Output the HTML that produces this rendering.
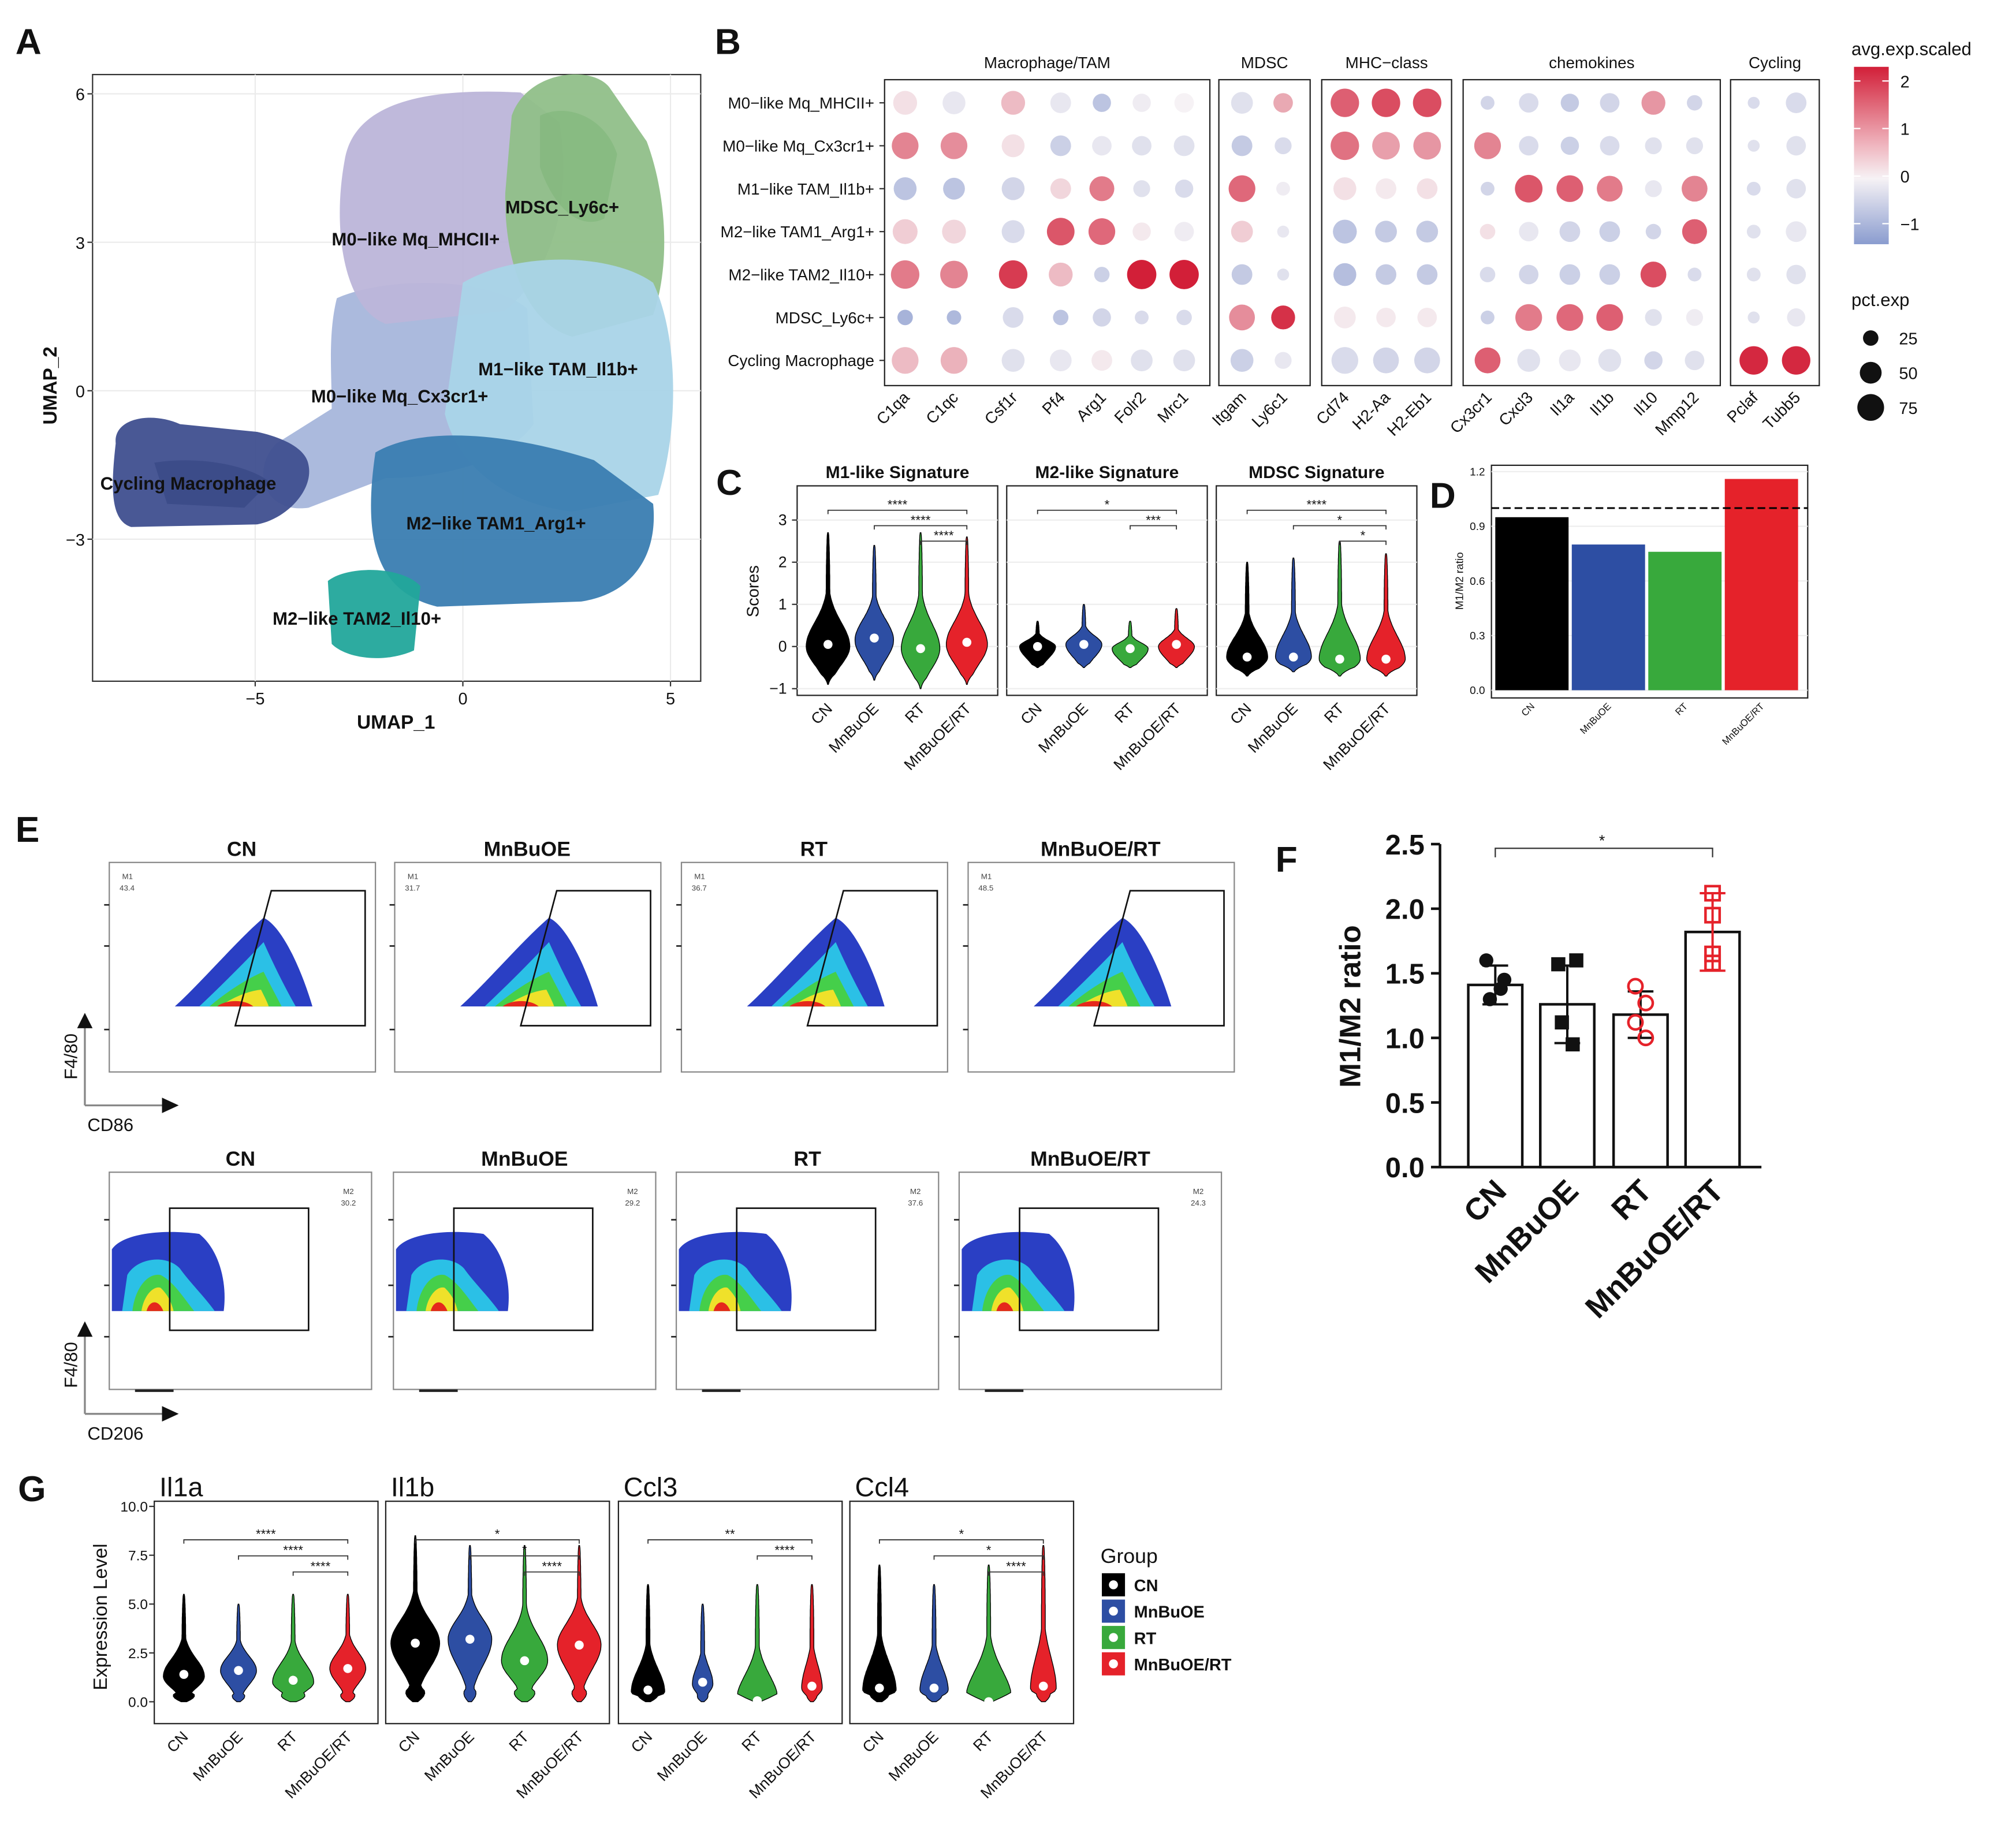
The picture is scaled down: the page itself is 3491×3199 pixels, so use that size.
<!DOCTYPE html>
<html><head><meta charset="utf-8">
<style>
html,body{margin:0;padding:0;background:#fff;}
svg{display:block;font-family:"Liberation Sans",Arial,sans-serif;}
</style></head>
<body>
<svg id="fig" xmlns="http://www.w3.org/2000/svg" width="3491" height="3199" viewBox="0 0 1568 1437" preserveAspectRatio="none">
<rect x="0" y="0" width="1568" height="1437" fill="#fff"/>
</svg>
<script>
// ---------- DATA ----------
const groups = ["CN","MnBuOE","RT","MnBuOE/RT"];
const groupColors = ["#000000","#2d4ea3","#38a93c","#e5222a"];
// Panel B
const dotRows = ["M0\u2212like Mq_MHCII+","M0\u2212like Mq_Cx3cr1+","M1\u2212like TAM_Il1b+","M2\u2212like TAM1_Arg1+","M2\u2212like TAM2_Il10+","MDSC_Ly6c+","Cycling Macrophage"];
const dotGenes = ["C1qa","C1qc","Csf1r","Pf4","Arg1","Folr2","Mrc1","Itgam","Ly6c1","Cd74","H2-Aa","H2-Eb1","Cx3cr1","Cxcl3","Il1a","Il1b","Il10","Mmp12","Pclaf","Tubb5"];
const dotGroupNames = ["Macrophage/TAM","MDSC","MHC\u2212class","chemokines","Cycling"];
const dotGroupSizes = [7,2,3,6,2];
const dotExp = [
 [0.2,1.2,-0.8,0.4,1.3,-1.1,0.6],[-0.2,1.1,-0.8,0.3,1.2,-1.0,0.7],[0.6,0.2,-0.5,-0.4,2.0,-0.4,-0.3],
 [-0.2,-0.6,0.3,1.7,0.6,-0.8,-0.2],[-0.8,-0.2,1.3,1.5,-0.6,-0.5,0.1],[-0.1,-0.3,-0.3,0.1,2.3,-0.4,-0.3],
 [0.0,-0.3,-0.4,-0.1,2.3,-0.4,-0.3],[-0.3,-0.7,1.5,0.4,-0.7,1.1,-0.6],[0.8,-0.4,-0.1,-0.2,-0.3,2.1,-0.2],
 [1.6,1.4,0.2,-0.8,-0.9,0.1,-0.4],[1.8,0.9,0.1,-0.7,-0.7,0.1,-0.5],[1.8,1.0,0.2,-0.7,-0.7,0.1,-0.5],
 [-0.5,1.2,-0.5,0.2,-0.4,-0.6,1.6],[-0.4,-0.4,1.7,-0.2,-0.5,1.3,-0.3],[-0.7,-0.6,1.6,-0.5,-0.6,1.5,-0.2],
 [-0.5,-0.4,1.3,-0.6,-0.6,1.6,-0.3],[1.0,-0.3,-0.2,-0.5,1.8,-0.3,-0.5],[-0.5,-0.3,1.2,1.6,-0.4,-0.1,-0.3],
 [-0.4,-0.3,-0.4,-0.3,-0.3,-0.3,2.2],[-0.4,-0.3,-0.3,-0.2,-0.3,-0.2,2.2]];
const dotPct = [
 [60,75,55,65,85,25,75],[55,75,50,60,80,22,75],[60,55,55,55,85,45,55],
 [45,45,45,80,60,25,50],[35,40,65,75,25,35,45],[35,40,30,35,90,20,50],
 [40,45,35,40,90,25,50],[50,45,75,50,45,70,55],[40,30,20,15,15,60,30],
 [85,85,55,60,55,50,75],[85,80,45,50,45,40,70],[85,80,45,50,45,40,70],
 [20,75,20,25,25,20,70],[40,40,80,40,40,75,55],[35,35,75,45,45,75,50],
 [40,40,70,45,45,75,55],[60,30,30,25,70,30,35],[25,30,70,65,20,30,40],
 [15,15,20,20,20,15,85],[45,40,40,45,40,35,85]];
const colorTicks = [2,1,0,-1];
const pctTicks = [25,50,75];
// Panel C
const cTitles = ["M1-like Signature","M2-like Signature","MDSC Signature"];
const cMin = [[-0.9,-0.8,-1.0,-0.9],[-0.5,-0.5,-0.5,-0.5],[-0.7,-0.6,-0.7,-0.7]];
const cMax = [[2.7,2.4,2.7,2.6],[0.6,1.0,0.6,0.9],[2.0,2.1,2.5,2.2]];
const cMode = [[0.0,0.15,-0.05,0.05],[0.0,0.05,-0.05,0.0],[-0.25,-0.25,-0.3,-0.3]];
const cMed = [[0.05,0.2,-0.05,0.1],[0.0,0.05,-0.05,0.05],[-0.25,-0.25,-0.3,-0.3]];
const cHalfW = [[17,15,15,16],[14,14,14,14],[16,14,16,15]];
const cSig = [[["****",0,3],["****",1,3],["****",2,3]],[["*",0,3],["***",2,3]],[["****",0,3],["*",1,3],["*",2,3]]];
const cTicks = [3,2,1,0,-1];
// Panel D
const dVals = [0.95,0.80,0.76,1.16];
const dTicks = [0.0,0.3,0.6,0.9,1.2];
// Panel E
const eTop = ["43.4","31.7","36.7","48.5"];
const eBot = ["30.2","29.2","37.6","24.3"];
// Panel F
const fMeans = [1.41,1.26,1.18,1.82];
const fSd = [0.15,0.30,0.18,0.30];
const fPts = [[1.60,1.45,1.30,1.38],[1.57,1.60,1.12,0.95],[1.40,1.27,1.12,1.00],[2.12,1.95,1.65,1.58]];
const fTicks = [0,0.5,1.0,1.5,2.0,2.5];
// Panel G
const gTitles = ["Il1a","Il1b","Ccl3","Ccl4"];
const gMax = [[5.5,5.0,5.5,5.5],[8.5,8.0,8.0,8.0],[6.0,5.0,6.0,6.0],[7.0,6.0,7.0,8.0]];
const gMode = [[1.3,1.6,1.0,1.7],[3.0,3.2,2.1,2.9],[0.5,0.9,0.1,0.7],[0.6,0.6,0.1,0.7]];
const gMed = [[1.4,1.6,1.1,1.7],[3.0,3.2,2.1,2.9],[0.6,1.0,0.05,0.8],[0.7,0.7,0.0,0.8]];
const gHalfW = [[16,14,16,14],[19,17,18,17],[13,8,16,8],[13,11,18,10]];
const gBase = [[0.9,0.6,1.0,0.7],[0.7,0.5,0.8,0.6],[1.0,0.9,1.0,0.9],[1.0,1.0,1.0,1.0]];
const gSig = [[["****",0,3],["****",1,3],["****",2,3]],[["*",0,3],["*",1,3],["****",2,3]],[["**",0,3],["****",2,3]],[["*",0,3],["*",1,3],["****",2,3]]];
const gTicks = [0,2.5,5,7.5,10];

// ---------- HELPERS ----------
const NS="http://www.w3.org/2000/svg";
const svg=document.getElementById('fig');
function E(tag,attrs,parent){const el=document.createElementNS(NS,tag);for(const k in attrs)el.setAttribute(k,attrs[k]);(parent||svg).appendChild(el);return el;}
function T(x,y,txt,size,attrs,parent){const a=Object.assign({x:x,y:y,'font-size':size,fill:'#111'},attrs||{});const el=E('text',a,parent);el.textContent=txt;return el;}
function G(){return E('g',{});}
function lerp(a,b,t){return a+(b-a)*t;}
function hex(c){return [parseInt(c.slice(1,3),16),parseInt(c.slice(3,5),16),parseInt(c.slice(5,7),16)];}
function expColor(v){const lo=hex('#8a9ccf'),mid=hex('#f6f2f5'),hi=hex('#d21f38');let a,b,t;
 if(v<0){a=mid;b=lo;t=Math.min(1,-v/1.5);}else{a=mid;b=hi;t=Math.min(1,v/2.3);}
 return 'rgb('+[0,1,2].map(i=>Math.round(lerp(a[i],b[i],t))).join(',')+')';}
function violin(cx,ys,mn,mx,mode,hw,base){
 const n=60;const L=[],R=[];
 const sLo=Math.max(0.15,(mode-mn)*0.55+0.12),sHi=Math.max(0.2,(mx-mode)*0.3);
 for(let i=0;i<=n;i++){const v=mn+(mx-mn)*i/n;const s=v<mode?sLo:sHi;
  let w=Math.exp(-Math.pow((v-mode)/s,2));
  if(base>0)w=Math.max(w,base*Math.exp(-Math.pow((v-mn)/((mx-mn)*0.08+0.05),2)));
  w=hw*w;const end=Math.sin(Math.PI*i/n);w=Math.max(w*Math.min(1,end*4+0.15),1.2*Math.sqrt(end)+0.3);
  L.push([cx-w,ys(v)]);R.push([cx+w,ys(v)]);}
 let d='M'+L.map(p=>p[0].toFixed(1)+' '+p[1].toFixed(1)).join(' L');
 d+=' L'+R.reverse().map(p=>p[0].toFixed(1)+' '+p[1].toFixed(1)).join(' L')+' Z';return d;}

// ---------- PANEL A ----------
const gA=G();
let el=T(12,42,'A',28,{'font-weight':'bold'},gA);
const ax0=72,ax1=545,ay0=58,ay1=530;
el=E('rect',{x:ax0,y:ay0,width:ax1-ax0,height:ay1-ay0,fill:'#fff',stroke:'#333','stroke-width':1},gA);
const ux=v=>360+v*32.3, uy=v=>304-v*38.5;
[-5,0,5].forEach(v=>{E('line',{x1:ux(v),x2:ux(v),y1:ay0,y2:ay1,stroke:'#ebebeb'},gA);
 el=T(ux(v),548,v===0?'0':(v<0?'\u2212'+(-v):''+v),13,{'text-anchor':'middle'},gA);
 E('line',{x1:ux(v),x2:ux(v),y1:ay1,y2:ay1+4,stroke:'#333'},gA);});
[6,3,0,-3].forEach(v=>{E('line',{x1:ax0,x2:ax1,y1:uy(v),y2:uy(v),stroke:'#ebebeb'},gA);
 el=T(66,uy(v)+5,v<0?'\u2212'+(-v):''+v,13,{'text-anchor':'end'},gA);
 E('line',{x1:ax0-4,x2:ax0,y1:uy(v),y2:uy(v),stroke:'#333'},gA);});
el=T(308,567,'UMAP_1',15,{'text-anchor':'middle','font-weight':'bold'},gA);
el=T(0,0,'UMAP_2',15,{'text-anchor':'middle','font-weight':'bold',transform:'translate(44,300) rotate(-90)'},gA);
const blobs=[
 ['cluster-m0-cx3cr1','#a7b6db','M 262 232 C 300 215 380 215 410 240 L 415 330 C 390 365 330 372 300 372 L 240 395 C 205 400 195 365 215 345 L 258 318 C 258 290 255 260 262 232 Z'],
 ['cluster-m0-mhcii','#bcb5d9','M 268 125 C 275 80 330 68 405 72 L 435 95 C 445 150 432 212 392 242 L 300 252 C 268 240 258 180 268 125 Z'],
 ['cluster-mdsc','#90bf89','M 398 90 C 410 55 460 50 474 68 L 503 110 C 518 150 522 205 508 245 L 445 262 C 410 252 392 205 393 150 Z'],
 ['cluster-m1-il1b','#a9d4e8','M 360 220 C 400 196 475 196 508 220 C 528 262 528 335 512 385 L 445 398 C 392 392 356 362 346 322 Z'],
 ['cluster-m2-arg1','#3a7db1','M 292 352 C 330 330 400 338 462 358 L 508 392 C 512 432 492 462 452 468 L 340 472 C 300 462 280 432 292 352 Z'],
 ['cluster-m2-il10','#22a69b','M 255 452 C 270 440 312 440 327 456 L 322 506 C 300 516 270 513 258 501 Z'],
 ['cluster-cycling','#3f4f8f','M 90 345 C 88 325 118 320 140 330 L 200 336 C 218 340 238 348 240 362 C 244 382 222 404 200 408 L 102 410 C 86 405 86 380 90 345 Z']];
blobs.forEach(b=>{el=E('path',{d:b[2],fill:b[1],opacity:0.95},gA);});
E('path',{d:'M 420 90 C 440 80 470 90 480 120 L 470 170 C 450 180 430 160 420 130 Z',fill:'#7fb57a',opacity:0.6},gA);
E('path',{d:'M 120 360 C 150 355 190 360 210 375 L 190 395 L 130 392 Z',fill:'#344582',opacity:0.6},gA);
const uLabels=[["MDSC_Ly6c+",393,166],["M0\u2212like Mq_MHCII+",258,191],["M1\u2212like TAM_Il1b+",372,292],["M0\u2212like Mq_Cx3cr1+",242,313],["Cycling Macrophage",78,381],["M2\u2212like TAM1_Arg1+",316,412],["M2\u2212like TAM2_Il10+",212,486]];
uLabels.forEach(l=>{el=T(l[1],l[2],l[0],14,{'font-weight':'bold',fill:'#111'},gA);});

// ---------- PANEL B ----------
const gB=G();
el=T(556,42,'B',28,{'font-weight':'bold'},gB);
const geneX=[704,742,788,825,857,888,921,966,998,1046,1078,1110,1157,1189,1221,1252,1286,1318,1364,1397];
const rowY=r=>80+r*33.4;
const boxes=[[688,941],[948,1019],[1028,1129],[1138,1338],[1346,1415]];
boxes.forEach((bx,i)=>{el=E('rect',{x:bx[0],y:62,width:bx[1]-bx[0],height:238,fill:'#fff',stroke:'#222','stroke-width':1},gB);
 el=T((bx[0]+bx[1])/2,53,dotGroupNames[i],12.5,{'text-anchor':'middle'},gB);});
dotRows.forEach((r,i)=>{el=T(680,rowY(i)+4.5,r,12.5,{'text-anchor':'end'},gB);
 E('line',{x1:684,x2:688,y1:rowY(i),y2:rowY(i),stroke:'#333'},gB);});
dotGenes.forEach((g,j)=>{const x=geneX[j];
 el=T(0,0,g,12.5,{'text-anchor':'end',transform:'translate('+(x+4)+',310) rotate(-45)'},gB);
 dotRows.forEach((r,i)=>{const c=E('circle',{cx:x,cy:rowY(i),r:Math.sqrt(dotPct[j][i])*1.2,fill:expColor(dotExp[j][i])},gB);
  
  });});
el=T(1440,43,'avg.exp.scaled',14,{},gB);
const defs=E('defs',{});const lg=E('linearGradient',{id:'cg',x1:0,y1:0,x2:0,y2:1},defs);
[['0%','#d21f38'],['45%','#f0b8c1'],['63%','#f6f2f5'],['100%','#8a9ccf']].forEach(s=>E('stop',{offset:s[0],'stop-color':s[1]},lg));
el=E('rect',{x:1442,y:52,width:27,height:138,fill:'url(#cg)'},gB);
const cy=v=>137-v*37;
colorTicks.forEach(v=>{el=T(1478,cy(v)+5,v<0?'\u2212'+(-v):''+v,13,{},gB);
 E('line',{x1:1442,x2:1447,y1:cy(v),y2:cy(v),stroke:'#fff'},gB);E('line',{x1:1464,x2:1469,y1:cy(v),y2:cy(v),stroke:'#fff'},gB);});
el=T(1440,238,'pct.exp',14,{},gB);
pctTicks.forEach((p,i)=>{const y=263+i*27;el=E('circle',{cx:1455,cy:y,r:Math.sqrt(p)*1.2,fill:'#111'},gB);
 el=T(1477,y+5,''+p,13,{},gB);});

// ---------- PANEL C ----------
const gC=G();
el=T(557,385,'C',28,{'font-weight':'bold'},gC);
const cBoxes=[620,783,946];const cW=156,cTop=378,cBot=541;
const cys=v=>503-v*32.8;
el=T(0,0,'Scores',13,{'text-anchor':'middle',transform:'translate(590,460) rotate(-90)'},gC);
cTicks.forEach(v=>{el=T(612,cys(v)+4,v<0?'\u2212'+(-v):''+v,12,{'text-anchor':'end'},gC);
 E('line',{x1:616,x2:620,y1:cys(v),y2:cys(v),stroke:'#333'},gC);});
cBoxes.forEach((bx,p)=>{
 el=E('rect',{x:bx,y:cTop,width:cW,height:cBot-cTop,fill:'#fff',stroke:'#222'},gC);
 cTicks.forEach(v=>E('line',{x1:bx,x2:bx+cW,y1:cys(v),y2:cys(v),stroke:'#eeeeee'},gC));
 el=T(bx+cW/2,372,cTitles[p],13.5,{'text-anchor':'middle','font-weight':'bold'},gC);
 const xs=i=>bx+24+i*36;
 groups.forEach((g,i)=>{
  el=E('path',{d:violin(xs(i),cys,cMin[p][i],cMax[p][i],cMode[p][i],cHalfW[p][i],0),fill:groupColors[i],stroke:'#000','stroke-width':0.6},gC);
  
  
  el=E('circle',{cx:xs(i),cy:cys(cMed[p][i]),r:3.5,fill:'#fff'},gC);
  
  
  el=T(0,0,g,12,{'text-anchor':'end',transform:'translate('+(xs(i)+4)+',552) rotate(-45)'},gC);});
 cSig[p].forEach((s,k)=>{const y=397+k*12;const x1=xs(s[1]),x2=xs(s[2]);
  el=E('path',{d:'M'+x1+' '+(y+3)+' L'+x1+' '+y+' L'+x2+' '+y+' L'+x2+' '+(y+3),fill:'none',stroke:'#333','stroke-width':0.8},gC);
  el=T((x1+x2)/2,y-1,s[0],10,{'text-anchor':'middle'},gC);});
});

// ---------- PANEL D ----------
const gD=G();
el=T(1112,395,'D',28,{'font-weight':'bold'},gD);
const dys=v=>537-v*141.7;
el=E('rect',{x:1160,y:362,width:246,height:181,fill:'#fff',stroke:'#222'},gD);
dTicks.forEach(v=>{el=T(1155,dys(v)+3,v.toFixed(1),8.5,{'text-anchor':'end'},gD);
 E('line',{x1:1160,x2:1406,y1:dys(v),y2:dys(v),stroke:'#eee'},gD);});
dVals.forEach((v,i)=>{const x=1163+i*59.5;
 el=E('rect',{x:x,y:dys(v),width:57,height:dys(0)-dys(v),fill:groupColors[i]},gD);
 
 
 el=T(0,0,groups[i],7.5,{'text-anchor':'end',transform:'translate('+(x+31)+',550) rotate(-45)'},gD);});
el=E('line',{x1:1160,x2:1406,y1:dys(1),y2:dys(1),stroke:'#000','stroke-width':1.3,'stroke-dasharray':'6,3'},gD);
el=T(0,0,'M1/M2 ratio',8.5,{'text-anchor':'middle',transform:'translate(1138,452) rotate(-90)'},gD);

// ---------- PANEL E ----------
const gE=G();
el=T(12,655,'E',28,{'font-weight':'bold'},gE);
const topX=[85,307,530,753],botX=[85,306,526,746];
const flowCols=['#2a3fc4','#2bc0e6','#45cf4a','#efe12a','#e5281c'];
function topCloud(x,y){const s=[
 'M51 112 C70 95 100 60 120 43 C135 50 150 85 158 112 Z',
 'M70 112 C88 95 105 78 120 62 C128 80 137 98 145 112 Z',
 'M78 112 C92 100 108 90 120 85 C125 95 130 104 134 112 Z',
 'M86 112 C96 105 108 100 118 99 C121 105 123 109 124 112 Z',
 'M84 112 C90 107 105 106 112 112 Z'];
 s.forEach((d,i)=>{E('path',{d:d,fill:flowCols[i],transform:'translate('+x+','+y+')'},gE);});}
function botCloud(x,y){const s=[
 'M2 108 L2 60 C10 48 40 44 70 48 C85 60 92 85 89 108 Z',
 'M10 108 L14 80 C22 66 45 64 55 75 C62 85 75 98 82 108 Z',
 'M18 108 C20 90 30 78 40 80 C50 85 58 98 66 108 Z',
 'M25 108 C27 95 35 88 40 90 C45 95 48 100 50 108 Z',
 'M29 108 C31 100 38 98 42 108 Z'];
 s.forEach((d,i)=>{E('path',{d:d,fill:flowCols[i],transform:'translate('+x+','+y+')'},gE);});}
groups.forEach((g,i)=>{const x=topX[i],y=671;
 el=E('rect',{x:x,y:y,width:207,height:163,fill:'#fff',stroke:'#888'},gE);
 el=T(x+103,666,g,16,{'text-anchor':'middle','font-weight':'bold'},gE);
 topCloud(x,y);
 el=E('path',{d:'M'+(x+126)+' '+(y+22)+' L'+(x+199)+' '+(y+22)+' L'+(x+199)+' '+(y+127)+' L'+(x+98)+' '+(y+127)+' Z',fill:'none',stroke:'#111','stroke-width':1.2},gE);
 el=T(x+10,y+13,'M1',6,{fill:'#444'},gE);el=T(x+8,y+22,eTop[i],6,{fill:'#444'},gE);
 [y+33,y+65,y+130].forEach(t=>E('line',{x1:x-4,x2:x,y1:t,y2:t,stroke:'#222','stroke-width':1.2},gE));
});
groups.forEach((g,i)=>{const x=botX[i],y=912;
 el=E('rect',{x:x,y:y,width:204,height:169,fill:'#fff',stroke:'#888'},gE);
 el=T(x+102,907,g,16,{'text-anchor':'middle','font-weight':'bold'},gE);
 botCloud(x,y);
 el=E('rect',{x:x+47,y:y+28,width:108,height:95,fill:'none',stroke:'#111','stroke-width':1.2},gE);
 el=T(x+186,y+17,'M2',6,{fill:'#444','text-anchor':'middle'},gE);el=T(x+186,y+26,eBot[i],6,{fill:'#444','text-anchor':'middle'},gE);
 [y+37,y+88,y+128].forEach(t=>E('line',{x1:x-4,x2:x,y1:t,y2:t,stroke:'#222','stroke-width':1.2},gE));
 E('line',{x1:x+20,x2:x+50,y1:y+170,y2:y+170,stroke:'#222','stroke-width':2},gE);
});
function axisArrows(x0,y0,lblY,lblX){
 el=E('path',{d:'M'+x0+' '+y0+' L'+x0+' '+(y0-62)+' M'+x0+' '+y0+' L'+(x0+62)+' '+y0,stroke:'#888','stroke-width':1.5,fill:'none'},gE);
 E('path',{d:'M'+(x0-6)+' '+(y0-60)+' L'+x0+' '+(y0-72)+' L'+(x0+6)+' '+(y0-60)+' Z',fill:'#111'},gE);
 E('path',{d:'M'+(x0+60)+' '+(y0-6)+' L'+(x0+73)+' '+y0+' L'+(x0+60)+' '+(y0+6)+' Z',fill:'#111'},gE);
 el=T(0,0,lblY,14,{'text-anchor':'middle',transform:'translate('+(x0-6)+','+(y0-38)+') rotate(-90)'},gE);
 el=T(x0+2,y0+20,lblX,14,{},gE);}
axisArrows(66,860,'F4/80','CD86');axisArrows(66,1100,'F4/80','CD206');

// ---------- PANEL F ----------
const gF=G();
el=T(992,678,'F',28,{'font-weight':'bold'},gF);
const fys=v=>908-v*100.5;
E('line',{x1:1120,x2:1120,y1:fys(2.5),y2:fys(0),stroke:'#111','stroke-width':2},gF);
E('line',{x1:1120,x2:1370,y1:fys(0),y2:fys(0),stroke:'#111','stroke-width':2},gF);
fTicks.forEach(v=>{E('line',{x1:1113,x2:1120,y1:fys(v),y2:fys(v),stroke:'#111','stroke-width':2},gF);
 el=T(1108,fys(v)+8,v.toFixed(1),22,{'text-anchor':'end','font-weight':'bold'},gF);});
el=T(0,0,'M1/M2 ratio',23,{'text-anchor':'middle','font-weight':'bold',transform:'translate(1058,783) rotate(-90)'},gF);
const fX=[1163,1219,1276,1332];
fMeans.forEach((m,i)=>{const cx=fX[i];
 el=E('rect',{x:cx-21,y:fys(m),width:42,height:fys(0)-fys(m),fill:'#fff',stroke:'#111','stroke-width':2},gF);
 
 
 el=E('path',{d:'M'+cx+' '+fys(m-fSd[i])+' L'+cx+' '+fys(m+fSd[i])+' M'+(cx-10)+' '+fys(m+fSd[i])+' L'+(cx+10)+' '+fys(m+fSd[i])+' M'+(cx-10)+' '+fys(m-fSd[i])+' L'+(cx+10)+' '+fys(m-fSd[i]),stroke:groupColors[i]==='#000000'?'#111':(i===3?'#e5222a':'#111'),'stroke-width':1.8,fill:'none'},gF);
 
 
 fPts[i].forEach((v,k)=>{const px=cx+(k%2?7:-7)*(k<2?1:0.6);let m2;
  if(i===0){m2=E('circle',{cx:px,cy:fys(v),r:5.5,fill:'#111'},gF);}
  else if(i===1){m2=E('rect',{x:px-5.5,y:fys(v)-5.5,width:11,height:11,fill:'#111'},gF);}
  else if(i===2){m2=E('circle',{cx:cx+(k%2?4:-4),cy:fys(v),r:5.5,fill:'none',stroke:'#e5222a','stroke-width':2},gF);}
  else {m2=E('rect',{x:cx-5.5,y:fys(v)-5.5,width:11,height:11,fill:'none',stroke:'#e5222a','stroke-width':2},gF);}
  
  });
 el=T(0,0,groups[i],24,{'text-anchor':'end','font-weight':'bold',transform:'translate('+(cx+10)+',928) rotate(-45)'},gF);});
el=E('path',{d:'M1163 667 L1163 660 L1332 660 L1332 667',stroke:'#333','stroke-width':1,fill:'none'},gF);
el=T(1246,658,'*',12,{'text-anchor':'middle'},gF);

// ---------- PANEL G ----------
const gG=G();
el=T(14,1168,'G',28,{'font-weight':'bold'},gG);
const gBoxes=[120,300,481,661];const gW=174,gTop=1168,gBot=1341;
const gys=v=>1324-v*15.2;
el=T(0,0,'Expression Level',15,{'text-anchor':'middle',transform:'translate(83,1258) rotate(-90)'},gG);
gTicks.forEach(v=>{el=T(115,gys(v)+4,v.toFixed(1),11,{'text-anchor':'end'},gG);
 E('line',{x1:116,x2:120,y1:gys(v),y2:gys(v),stroke:'#333'},gG);});
gBoxes.forEach((bx,p)=>{
 el=E('rect',{x:bx,y:gTop,width:gW,height:gBot-gTop,fill:'#fff',stroke:'#222'},gG);
 el=T(bx+4,1164,gTitles[p],21,{},gG);
 const xs=i=>bx+23+i*42.5;
 groups.forEach((g,i)=>{
  el=E('path',{d:violin(xs(i),gys,0,gMax[p][i],gMode[p][i],gHalfW[p][i],gBase[p][i]),fill:groupColors[i],stroke:'#000','stroke-width':0.6},gG);
  
  
  el=E('circle',{cx:xs(i),cy:gys(gMed[p][i]),r:3.5,fill:'#fff'},gG);
  
  
  el=T(0,0,g,12,{'text-anchor':'end',transform:'translate('+(xs(i)+4)+',1352) rotate(-45)'},gG);});
 gSig[p].forEach((s,k)=>{const y=1198+k*12.5;const x1=xs(s[1]),x2=xs(s[2]);
  el=E('path',{d:'M'+x1+' '+(y+3)+' L'+x1+' '+y+' L'+x2+' '+y+' L'+x2+' '+(y+3),fill:'none',stroke:'#333','stroke-width':0.8},gG);
  el=T((x1+x2)/2,y-1,s[0],10,{'text-anchor':'middle'},gG);});
});
el=T(856,1216,'Group',16,{},gG);
groups.forEach((g,i)=>{const y=1233+i*20.5;
 el=E('rect',{x:857,y:y-9,width:18,height:18,fill:groupColors[i]},gG);
 E('circle',{cx:866,cy:y,r:3.5,fill:'#fff'},gG);
 el=T(882,y+5,g,13,{'font-weight':'bold'},gG);});
</script>
</body></html>
